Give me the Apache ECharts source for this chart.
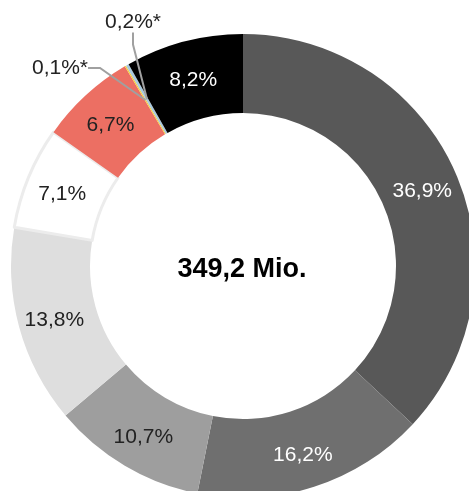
<!DOCTYPE html>
<html>
<head>
<meta charset="utf-8">
<script src="https://cdn.jsdelivr.net/npm/echarts@6/dist/echarts.min.js"></script>
<style>
  html, body { margin: 0; padding: 0; background: #fff; }
  #main { width: 469px; height: 491px; }
</style>
</head>
<body>
<div id="main"></div>
<script>
// Anteile in Prozent, im Uhrzeigersinn ab 12 Uhr
var shareValues = [36.9, 16.2, 10.7, 13.8, 7.1, 6.7, 0.1, 0.2, 8.2];
var shareLabels = ['36,9%', '16,2%', '10,7%', '13,8%', '7,1%', '6,7%', '0,1%*', '0,2%*', '8,2%'];
var sliceColors = ['#585858', '#6f6f6f', '#9e9e9e', '#dedede', '#ffffff', '#ec6f63', '#f4d03f', '#a9c9dd', '#000000'];
var labelColors = ['#fff', '#fff', '#222', '#222', '#222', '#222', '#222', '#222', '#fff'];
var smallSlices = [6, 7];   // Beschriftung außerhalb mit Linie
var totalText = '349,2 Mio.';

var cx = 243, cy = 266, rIn = 153, rOut = 232;
var rMid = (rIn + rOut) / 2;

var myChart = echarts.init(document.getElementById('main'));

var ringData = [];
var outsideData = [];
for (var i = 0; i < shareValues.length; i++) {
    var isSmall = smallSlices.indexOf(i) >= 0;
    var item = {
        value: shareValues[i],
        name: shareLabels[i],
        itemStyle: { color: sliceColors[i], borderWidth: 0 },
        label: { show: !isSmall, color: labelColors[i] }
    };
    if (i == 4) {
        // weißes Segment mit hellgrauem Rand
        item.itemStyle.borderColor = '#ececec';
        item.itemStyle.borderWidth = 3;
    }
    ringData.push(item);

    // unsichtbarer Hilfsring bis zur Ringmitte, damit die Linie dort beginnt
    outsideData.push({
        value: shareValues[i],
        name: shareLabels[i],
        itemStyle: { color: 'rgba(0,0,0,0)', borderWidth: 0 },
        label: { show: isSmall },
        labelLine: { show: isSmall }
    });
}

var option = {
    backgroundColor: '#fff',
    animation: false,
    title: {
        text: totalText,
        left: 237,
        top: 265,
        textAlign: 'center',
        textVerticalAlign: 'middle',
        textStyle: {
            fontFamily: 'Liberation Sans',
            fontWeight: 'bold',
            fontSize: 27,
            color: '#000'
        }
    },
    series: [{
        type: 'pie',
        z: 2,
        center: [cx, cy],
        radius: [rIn, rOut],
        startAngle: 90,
        clockwise: true,
        avoidLabelOverlap: false,
        silent: true,
        label: {
            position: 'inside',
            formatter: '{b}',
            fontFamily: 'Liberation Sans',
            fontSize: 21,
            offset: [0, 3]
        },
        labelLine: { show: false },
        data: ringData
    }, {
        type: 'pie',
        z: 5,
        center: [cx, cy],
        radius: [rIn, rMid],
        startAngle: 90,
        clockwise: true,
        avoidLabelOverlap: false,
        silent: true,
        label: {
            position: 'outside',
            formatter: '{b}',
            fontFamily: 'Liberation Sans',
            fontSize: 21,
            color: '#222'
        },
        labelLine: {
            length: 20,
            length2: 12,
            minTurnAngle: 90,
            lineStyle: { color: '#a0a0a0', width: 2 }
        },
        labelLayout: function (params) {
            if (params.dataIndex == 6) {
                return { x: 88, y: 68, align: 'right', verticalAlign: 'middle' };
            }
            if (params.dataIndex == 7) {
                return { x: 133, y: 22, align: 'center', verticalAlign: 'middle' };
            }
            return {};
        },
        data: outsideData
    }]
};

myChart.setOption(option);
</script>
</body>
</html>
